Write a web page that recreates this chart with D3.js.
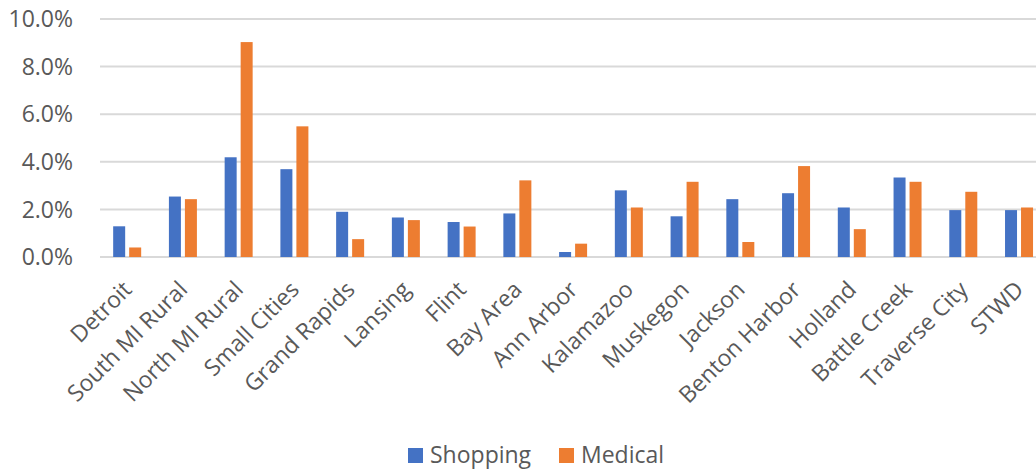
<!DOCTYPE html>
<html>
<head>
<meta charset="utf-8">
<script src="https://cdn.jsdelivr.net/npm/d3@7"></script>
<style>
  body { margin: 0; background: #fff; }
  svg { display: block; font-family: "Open Sans", sans-serif; }
</style>
</head>
<body>
<div id="chart"></div>
<script>
      var w = 1036;
      var h = 469;

      var categories = ["Detroit", "South MI Rural", "North MI Rural", "Small Cities", "Grand Rapids",
                        "Lansing", "Flint", "Bay Area", "Ann Arbor", "Kalamazoo", "Muskegon",
                        "Jackson", "Benton Harbor", "Holland", "Battle Creek", "Traverse City", "STWD"];
      var seriesNames = ["Shopping", "Medical"];
      var shopping = [1.29, 2.54, 4.19, 3.69, 1.90, 1.66, 1.47, 1.83, 0.21, 2.80, 1.71,
                      2.43, 2.68, 2.08, 3.34, 1.97, 1.97];
      var medical  = [0.40, 2.43, 9.03, 5.49, 0.75, 1.55, 1.28, 3.22, 0.56, 2.08, 3.16,
                      0.63, 3.82, 1.17, 3.16, 2.74, 2.08];
      var yTicks = [0, 2, 4, 6, 8, 10];
      var colors = ["#4472C4", "#ED7D31"];

      var svg = d3.select("#chart")
            .append("svg")
            .attr("width", w)
            .attr("height", h);

      var plotLeft = 100;
      var x0 = d3.scaleBand()
              .domain(categories)
              .range([99.3, 1046.9]);

      var x1 = d3.scaleBand()
              .domain(seriesNames)
              .range([x0.bandwidth() / 2 - 14, x0.bandwidth() / 2 + 14])
              .paddingInner(0.25);

      var y = d3.scaleLinear()
              .domain([0, 10])
              .range([257, 19]);

      var color = d3.scaleOrdinal().domain(seriesNames).range(colors);

      //Gridlines
      svg.append("g")
         .selectAll("line")
         .data(yTicks)
         .enter()
         .append("line")
         .attr("x1", plotLeft)
         .attr("x2", w)
         .attr("y1", function(d) { return y(d); })
         .attr("y2", function(d) { return y(d); })
         .attr("stroke", "#d9d9d9")
         .attr("stroke-width", 2);

      //Y tick labels
      svg.append("g")
         .selectAll("text")
         .data(yTicks)
         .enter()
         .append("text")
         .attr("x", 73)
         .attr("y", function(d) { return y(d); })
         .attr("dy", "0.36em")
         .attr("text-anchor", "end")
         .attr("fill", "#595959")
         .style("font-size", "23px")
         .text(function(d) { return d3.format(".1f")(d) + "%"; });

      //Bars
      var rows = categories.map(function(c, i) {
        return { cat: c, values: [
          { key: "Shopping", v: shopping[i] },
          { key: "Medical", v: medical[i] }
        ]};
      });

      var groups = svg.append("g")
         .selectAll("g")
         .data(rows)
         .enter()
         .append("g")
         .attr("transform", function(d) { return "translate(" + x0(d.cat) + ",0)"; });

      groups.selectAll("rect")
         .data(function(d) { return d.values; })
         .enter()
         .append("rect")
         .attr("x", function(d) { return x1(d.key); })
         .attr("width", x1.bandwidth())
         .attr("y", function(d) { return y(d.v); })
         .attr("height", function(d) { return y(0) - y(d.v); })
         .attr("fill", function(d) { return color(d.key); });

      //Category labels
      svg.append("g")
         .selectAll("text")
         .data(categories)
         .enter()
         .append("text")
         .attr("transform", function(d) {
            return "translate(" + (x0(d) + x0.bandwidth() / 2 + 6) + ",291) rotate(-45)";
         })
         .attr("text-anchor", "end")
         .attr("fill", "#595959")
         .style("font-size", "23px")
         .text(function(d) { return d; });

      //Legend
      var legendX = [408, 559];
      var legend = svg.append("g")
         .selectAll("g")
         .data(seriesNames)
         .enter()
         .append("g")
         .attr("transform", function(d, i) { return "translate(" + legendX[i] + ",448)"; });

      legend.append("rect")
         .attr("width", 15)
         .attr("height", 15)
         .attr("fill", function(d) { return color(d); });

      legend.append("text")
         .attr("x", 22)
         .attr("y", 15)
         .attr("fill", "#595959")
         .style("font-size", "23px")
         .text(function(d) { return d; });
</script>
</body>
</html>
